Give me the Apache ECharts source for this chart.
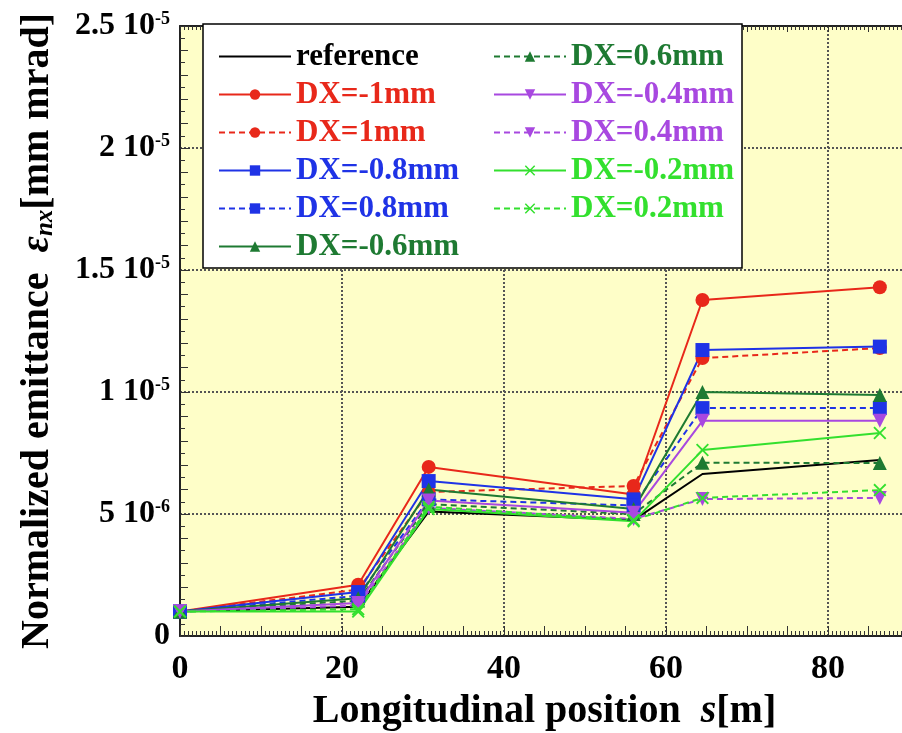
<!DOCTYPE html>
<html><head><meta charset="utf-8">
<script src="https://cdn.jsdelivr.net/npm/echarts@6/dist/echarts.min.js"></script>
<style>html,body{margin:0;padding:0;background:#fff}#c{width:902px;height:733px}</style>
</head><body><div id="c"></div>
<script>
// longitudinal position s [m]
const sPos = [0, 22, 30.7, 56, 64.5, 86.4];
// normalized emittance in units of 1e-6 mm mrad
const reference = [1.0, 1.2, 5.1, 4.75, 6.64, 7.21];
const dxM10 = [1.0, 2.1, 6.93, 5.8, 13.77, 14.29];
const dxP10 = [1.0, 1.9, 5.9, 6.15, 11.39, 11.8];
const dxM08 = [1.0, 1.8, 6.35, 5.6, 11.72, 11.86];
const dxP08 = [1.0, 1.65, 5.6, 5.35, 9.34, 9.34];
const dxM06 = [1.0, 1.55, 6.0, 5.2, 10.0, 9.88];
const dxP06 = [1.0, 1.45, 5.4, 5.0, 7.10, 7.09];
const dxM04 = [1.0, 1.35, 5.55, 5.05, 8.82, 8.82];
const dxP04 = [1.0, 1.25, 5.25, 4.8, 5.61, 5.66];
const dxM02 = [1.0, 1.0, 5.2, 4.7, 7.62, 8.32];
const dxP02 = [1.0, 1.1, 5.3, 4.75, 5.66, 5.98];
const yTicks = ['0', '5 10^-6', '1 10^-5', '1.5 10^-5', '2 10^-5', '2.5 10^-5'];
const xTicks = ['0', '20', '40', '60', '80'];

const FONT = 'Liberation Serif';
const RED = '#e8281a', BLUE = '#1f33e6', DGREEN = '#1e7a32', PURPLE = '#a848e0', LGREEN = '#33e02e';
const CIRCLE = 'circle', SQUARE = 'rect', UP = 'triangle';
const DOWN = 'path://M0,0L10,0L5,9Z';
const CROSS = 'path://M0,1L1,0L5,4L9,0L10,1L6,5L10,9L9,10L5,6L1,10L0,9L4,5Z';

const defs = [
  {name: 'reference', data: reference, color: '#000', text: '#000', symbol: 'none', dash: 'solid'},
  {name: 'DX=-1mm', data: dxM10, color: RED, symbol: CIRCLE, dash: 'solid'},
  {name: 'DX=1mm', data: dxP10, color: RED, symbol: CIRCLE, dash: [6, 4]},
  {name: 'DX=-0.8mm', data: dxM08, color: BLUE, symbol: SQUARE, dash: 'solid'},
  {name: 'DX=0.8mm', data: dxP08, color: BLUE, symbol: SQUARE, dash: [6, 4]},
  {name: 'DX=-0.6mm', data: dxM06, color: DGREEN, symbol: UP, dash: 'solid'},
  {name: 'DX=0.6mm', data: dxP06, color: DGREEN, symbol: UP, dash: [6, 4]},
  {name: 'DX=-0.4mm', data: dxM04, color: PURPLE, symbol: DOWN, dash: 'solid'},
  {name: 'DX=0.4mm', data: dxP04, color: PURPLE, symbol: DOWN, dash: [6, 4]},
  {name: 'DX=-0.2mm', data: dxM02, color: LGREEN, symbol: CROSS, dash: 'solid'},
  {name: 'DX=0.2mm', data: dxP02, color: LGREEN, symbol: CROSS, dash: [6, 4]}
];

const series = defs.map(d => ({
  name: d.name, type: 'line', xAxisIndex: 0, yAxisIndex: 0,
  data: sPos.map((x, i) => [x, d.data[i]]),
  symbol: d.symbol, symbolSize: d.symbol === CROSS ? 13 : 14, showSymbol: d.symbol !== 'none',
  itemStyle: {color: d.color},
  lineStyle: {color: d.color, width: 2, type: d.dash},
  animation: false
}));

function yLabel(v) {
  const idx = Math.round(v / 5);
  const t = yTicks[idx];
  if (t === undefined) return '';
  const parts = t.split('^');
  if (parts.length === 1) return '{a|' + parts[0] + '}';
  return '{a|' + parts[0] + '}{s|' + parts[1] + '}';
}

const legendText = {fontFamily: FONT, fontWeight: 'bold', fontSize: 31};
function legendData(list) {
  return list.map(d => {
    const item = {name: d.name, textStyle: {color: d.text || d.color}};
    if (d.symbol === 'none') item.itemStyle = {opacity: 0};
    return item;
  });
}

const tickFine = {show: true, inside: true, length: 5, lineStyle: {color: '#333', width: 1}};
const axisLine = {show: true, lineStyle: {color: '#222', width: 2}};

const option = {
  backgroundColor: '#fff',
  animation: false,
  grid: {left: 180, right: -7, top: 26, bottom: 97, show: true, backgroundColor: '#fefec8', borderWidth: 0,
         outerBoundsMode: 'none', containLabel: false},
  xAxis: [
    {type: 'value', min: 0, max: 90, interval: 20, position: 'bottom',
     axisLine: axisLine,
     axisTick: {show: true, inside: true, length: 10, lineStyle: {color: '#333', width: 1}},
     minorTick: {show: true, splitNumber: 4, length: 10, lineStyle: {color: '#333', width: 1}},
     splitLine: {show: true, lineStyle: {color: '#555', width: 2, type: 'dotted'}},
     axisLabel: {margin: 16, color: '#000', fontFamily: FONT, fontWeight: 'bold', fontSize: 34,
       formatter: v => { const i = Math.round(v / 20); return (Math.abs(v - i * 20) < 1e-6 && xTicks[i] !== undefined) ? xTicks[i] : ''; }},
     name: 'Longitudinal position  {i|s}[m]', nameLocation: 'middle', nameGap: 56,
     nameTextStyle: {color: '#000', fontFamily: FONT, fontWeight: 'bold', fontSize: 40,
       rich: {i: {fontFamily: FONT, fontWeight: 'bold', fontStyle: 'italic', fontSize: 40, color: '#000'}}}
    },
    {type: 'value', min: 0, max: 90, interval: 1, position: 'bottom',
     axisLine: {show: false}, axisTick: tickFine,
     minorTick: {show: true, splitNumber: 2, length: 5, lineStyle: {color: '#333', width: 1}},
     splitLine: {show: false}, axisLabel: {show: false}},
    {type: 'value', min: 0, max: 90, interval: 5, position: 'top',
     axisLine: axisLine,
     axisTick: {show: true, inside: true, length: 6, lineStyle: {color: '#333', width: 1}},
     minorTick: {show: true, splitNumber: 10, length: 4, lineStyle: {color: '#333', width: 1}},
     splitLine: {show: false}, axisLabel: {show: false}}
  ],
  yAxis: [
    {type: 'value', min: 0, max: 25, interval: 5, position: 'left',
     axisLine: axisLine,
     axisTick: {show: true, inside: true, length: 10, lineStyle: {color: '#333', width: 1}},
     minorTick: {show: true, splitNumber: 5, length: 8, lineStyle: {color: '#333', width: 1}},
     splitLine: {show: true, lineStyle: {color: '#555', width: 2, type: 'dotted'}},
     axisLabel: {margin: 10, formatter: yLabel,
       rich: {a: {fontFamily: FONT, fontWeight: 'bold', fontSize: 32, color: '#000'},
              s: {fontFamily: FONT, fontWeight: 'bold', fontSize: 18, color: '#000', verticalAlign: 'top'}}},
     name: 'Normalized emittance  {e|ε}{sub|nx}[mm mrad]', nameLocation: 'middle', nameGap: 122, nameRotate: 90,
     nameTextStyle: {color: '#000', fontFamily: FONT, fontWeight: 'bold', fontSize: 40,
       rich: {e: {fontFamily: FONT, fontWeight: 'bold', fontStyle: 'italic', fontSize: 40, color: '#000'},
              sub: {fontFamily: FONT, fontWeight: 'bold', fontStyle: 'italic', fontSize: 25, color: '#000', verticalAlign: 'bottom'}}}
    },
    {type: 'value', min: 0, max: 25, interval: 0.5, position: 'left',
     axisLine: {show: false}, axisTick: tickFine, splitLine: {show: false}, axisLabel: {show: false}}
  ],
  graphic: [{type: 'rect', z: 3, shape: {x: 203, y: 24, width: 539, height: 244},
             style: {fill: '#fff', stroke: '#000', lineWidth: 1.5}}],
  legend: [
    {z: 10, left: 213, top: 36, orient: 'vertical', itemGap: 7, itemWidth: 72, itemHeight: 13,
     textStyle: legendText, data: legendData(defs.slice(0, 6))},
    {z: 10, left: 488, top: 36, orient: 'vertical', itemGap: 7, itemWidth: 72, itemHeight: 13,
     textStyle: legendText, data: legendData(defs.slice(6))}
  ],
  series: series
};

const chart = echarts.init(document.getElementById('c'), null, {renderer: 'canvas'});
chart.setOption(option);
</script></body></html>
